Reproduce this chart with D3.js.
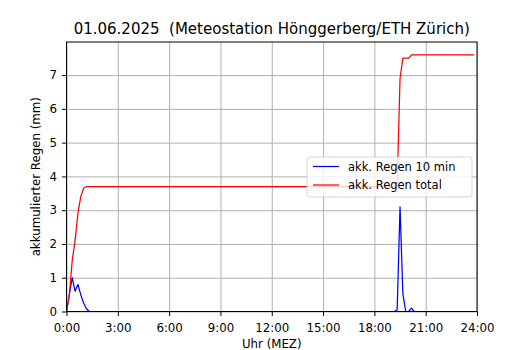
<!DOCTYPE html>
<html>
<head>
<meta charset="utf-8">
<script src="https://cdn.jsdelivr.net/npm/d3@7"></script>
<style>
  body { margin: 0; background: #fff; }
  svg { font-family: "DejaVu Sans", sans-serif; }
</style>
</head>
<body>
<svg id="chart"></svg>
<script>
// 10-min rain sums (mm), one row per hour, 0:00 .. 23:50
var regen10 = [
  0, 0.5, 1.0, 0.6, 0.8, 0.5,
  0.25, 0.08, 0, 0, 0, 0,
  0, 0, 0, 0, 0, 0,
  0, 0, 0, 0, 0, 0,
  0, 0, 0, 0, 0, 0,
  0, 0, 0, 0, 0, 0,
  0, 0, 0, 0, 0, 0,
  0, 0, 0, 0, 0, 0,
  0, 0, 0, 0, 0, 0,
  0, 0, 0, 0, 0, 0,
  0, 0, 0, 0, 0, 0,
  0, 0, 0, 0, 0, 0,
  0, 0, 0, 0, 0, 0,
  0, 0, 0, 0, 0, 0,
  0, 0, 0, 0, 0, 0,
  0, 0, 0, 0, 0, 0,
  0, 0, 0, 0, 0, 0,
  0, 0, 0, 0, 0, 0,
  0, 0, 0, 0, 0, 0,
  0, 0, 0.05, 3.1, 0.52, 0,
  0, 0.1, 0, 0, 0, 0,
  0, 0, 0, 0, 0, 0,
  0, 0, 0, 0, 0, 0,
  0, 0, 0, 0, 0, 0
];

// accumulated rain (mm)
var regenTotal = [
  0, 0.5, 1.5, 2.1, 2.9, 3.4,
  3.65, 3.7, 3.7, 3.7, 3.7, 3.7,
  3.7, 3.7, 3.7, 3.7, 3.7, 3.7,
  3.7, 3.7, 3.7, 3.7, 3.7, 3.7,
  3.7, 3.7, 3.7, 3.7, 3.7, 3.7,
  3.7, 3.7, 3.7, 3.7, 3.7, 3.7,
  3.7, 3.7, 3.7, 3.7, 3.7, 3.7,
  3.7, 3.7, 3.7, 3.7, 3.7, 3.7,
  3.7, 3.7, 3.7, 3.7, 3.7, 3.7,
  3.7, 3.7, 3.7, 3.7, 3.7, 3.7,
  3.7, 3.7, 3.7, 3.7, 3.7, 3.7,
  3.7, 3.7, 3.7, 3.7, 3.7, 3.7,
  3.7, 3.7, 3.7, 3.7, 3.7, 3.7,
  3.7, 3.7, 3.7, 3.7, 3.7, 3.7,
  3.7, 3.7, 3.7, 3.7, 3.7, 3.7,
  3.7, 3.7, 3.7, 3.7, 3.7, 3.7,
  3.7, 3.7, 3.7, 3.7, 3.7, 3.7,
  3.7, 3.7, 3.7, 3.7, 3.7, 3.7,
  3.7, 3.7, 3.7, 3.7, 3.7, 3.7,
  3.7, 3.7, 3.75, 6.9, 7.5, 7.5,
  7.5, 7.6, 7.6, 7.6, 7.6, 7.6,
  7.6, 7.6, 7.6, 7.6, 7.6, 7.6,
  7.6, 7.6, 7.6, 7.6, 7.6, 7.6,
  7.6, 7.6, 7.6, 7.6, 7.6, 7.6
];

var xTickHours = [0, 3, 6, 9, 12, 15, 18, 21, 24];
var xTickLabels = ["0:00", "3:00", "6:00", "9:00", "12:00", "15:00", "18:00", "21:00", "24:00"];
var yTicks = [0, 1, 2, 3, 4, 5, 6, 7];
var seriesNames = ["akk. Regen 10 min", "akk. Regen total"];
var seriesColors = ["blue", "red"];

var titleText = "01.06.2025  (Meteostation Hönggerberg/ETH Zürich)";

var W = 530, H = 350;
var margin = {top: 42, right: 53, bottom: 38.5, left: 66.5};
var w = W - margin.left - margin.right,
    h = H - margin.top - margin.bottom;

// hours of each sample
var hours = regen10.map(function(d, i) { return i / 6; });

var x = d3.scaleLinear().domain([0, 24]).range([0, w]);
var y = d3.scaleLinear().domain([0, 7.98]).range([h, 0]);

var svg = d3.select("#chart").attr("width", W).attr("height", H);
var g = svg.append("g").attr("transform", "translate(" + margin.left + "," + margin.top + ")");

svg.append("defs").append("clipPath").attr("id", "clip")
  .append("rect").attr("width", w).attr("height", h);

// grid
g.append("g").attr("class", "grid")
  .attr("transform", "translate(0," + h + ")")
  .call(d3.axisBottom(x).tickValues(xTickHours).tickSize(-h).tickFormat(""))
  .call(function(s) { s.select(".domain").remove(); });
g.append("g").attr("class", "grid")
  .call(d3.axisLeft(y).tickValues(yTicks).tickSize(-w).tickFormat(""))
  .call(function(s) { s.select(".domain").remove(); });
g.selectAll(".grid line").attr("stroke", "#b0b0b0").attr("stroke-width", 1);

// lines
var line = function(vals) {
  return d3.line()
    .x(function(d, i) { return x(hours[i]); })
    .y(function(d) { return y(d); })(vals);
};
var lines = g.append("g").attr("clip-path", "url(#clip)");
[regen10, regenTotal].forEach(function(vals, k) {
  lines.append("path")
    .attr("d", line(vals))
    .attr("fill", "none")
    .attr("stroke", seriesColors[k])
    .attr("stroke-width", 1.25)
    .attr("stroke-linejoin", "round");
});

// axes
var xAxis = g.append("g")
  .attr("transform", "translate(0," + h + ")")
  .call(d3.axisBottom(x).tickValues(xTickHours)
    .tickFormat(function(d, i) { return xTickLabels[i]; })
    .tickSize(4.5).tickPadding(7.5).tickSizeOuter(0));
var yAxis = g.append("g")
  .call(d3.axisLeft(y).tickValues(yTicks).tickFormat(d3.format("d"))
    .tickSize(4.5).tickPadding(5).tickSizeOuter(0));
[xAxis, yAxis].forEach(function(a) {
  a.select(".domain").remove();
  a.selectAll("line").attr("stroke", "#000").attr("stroke-width", 1);
  a.selectAll("text").attr("font-size", "11.8px").attr("fill", "#000")
    .attr("font-family", "DejaVu Sans");
});

// frame
g.append("rect").attr("width", w).attr("height", h)
  .attr("fill", "none").attr("stroke", "#000").attr("stroke-width", 1);

// labels
svg.append("text")
  .attr("x", margin.left + w / 2).attr("y", 34)
  .attr("text-anchor", "middle").attr("font-size", "15px")
  .style("white-space", "pre")
  .text(titleText);
svg.append("text")
  .attr("x", margin.left + w / 2).attr("y", 347.5)
  .attr("text-anchor", "middle").attr("font-size", "11.8px")
  .text("Uhr (MEZ)");
svg.append("text")
  .attr("transform", "translate(39.5," + (margin.top + h / 2) + ") rotate(-90)")
  .attr("text-anchor", "middle").attr("font-size", "11.8px")
  .text("akkumulierter Regen (mm)");

// legend
var leg = svg.append("g").attr("transform", "translate(307,157)");
leg.append("rect")
  .attr("width", 165).attr("height", 40).attr("rx", 3)
  .attr("fill", "rgba(255,255,255,0.8)")
  .attr("stroke", "rgba(204,204,204,0.8)").attr("stroke-width", 1);
seriesNames.forEach(function(name, k) {
  var yy = 9.5 + k * 18.5;
  leg.append("line")
    .attr("x1", 6).attr("x2", 32).attr("y1", yy).attr("y2", yy)
    .attr("stroke", seriesColors[k]).attr("stroke-width", 1.25);
  leg.append("text")
    .attr("x", 41).attr("y", yy + 4.2)
    .attr("font-size", "11.5px")
    .text(name);
});
</script>
</body>
</html>
